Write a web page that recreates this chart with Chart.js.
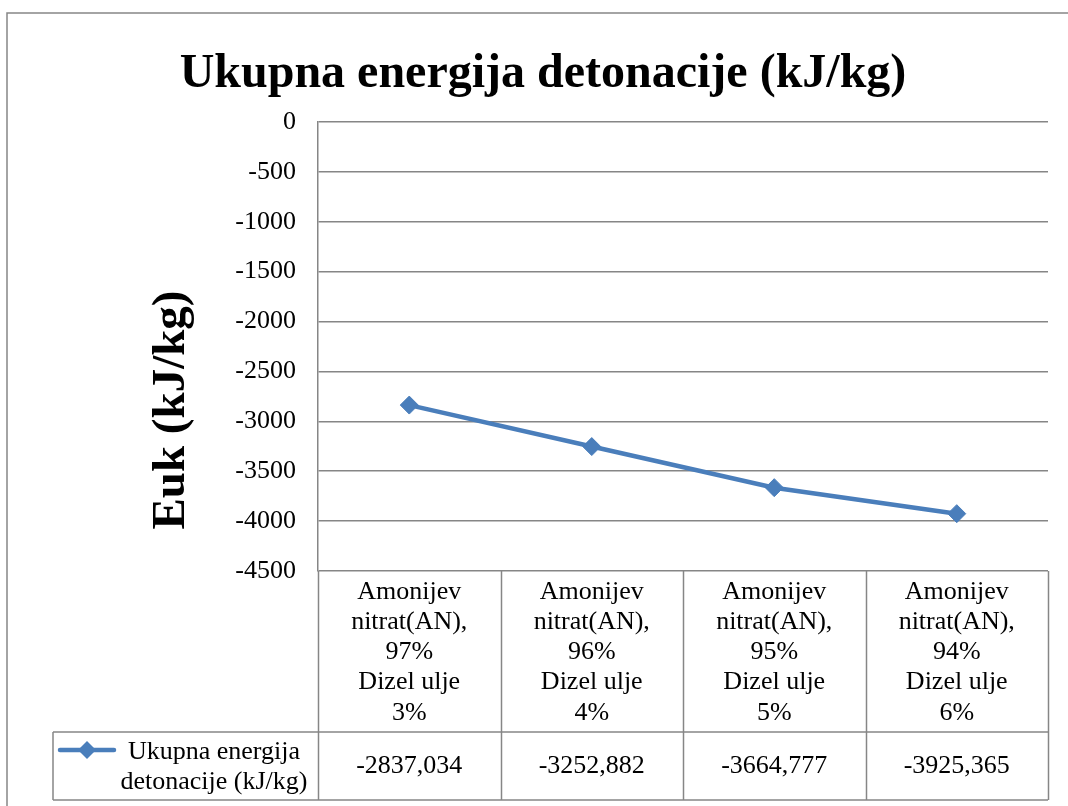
<!DOCTYPE html>
<html>
<head>
<meta charset="utf-8">
<script src="https://cdn.jsdelivr.net/npm/chart.js@4/dist/chart.umd.min.js"></script>
<style>
  html,body{margin:0;padding:0;background:#fff;}
  canvas{display:block;}
</style>
</head>
<body>
<canvas id="c" width="1068" height="806"></canvas>
<script>
const categories = [
  ['Amonijev','nitrat(AN),','97%','Dizel ulje','3%'],
  ['Amonijev','nitrat(AN),','96%','Dizel ulje','4%'],
  ['Amonijev','nitrat(AN),','95%','Dizel ulje','5%'],
  ['Amonijev','nitrat(AN),','94%','Dizel ulje','6%']
];
const values = [-2837.034, -3252.882, -3664.777, -3925.365];
const seriesName = ['Ukupna energija', 'detonacije (kJ/kg)'];
const titleText = 'Ukupna energija detonacije (kJ/kg)';
const yTitle = 'Euk (kJ/kg)';

const C = {
  line:'#4a7ebb', grid:'#868686', text:'#000',
  serif:"'Liberation Serif', 'Times New Roman', serif"
};
const fmt = v => v.toFixed(3).replace('.', ',');

const tablePlugin = {
  id:'tablePlugin',
  afterDraw(chart){
    const ctx = chart.ctx, a = chart.chartArea, x = chart.scales.x;
    const rowSplit = a.bottom + 161, bottom = x.bottom;
    const legendLeft = 53;
    ctx.save();
    // outer frame
    ctx.strokeStyle = C.grid; ctx.lineWidth = 1.5;
    ctx.strokeRect(7, 13, 1200, 1000);
    // title
    ctx.fillStyle = C.text;
    ctx.font = 'bold 48px ' + C.serif;
    ctx.textAlign = 'center'; ctx.textBaseline = 'alphabetic';
    ctx.fillText(titleText, 543, 87);
    // table grid
    const n = categories.length, w = a.width / n;
    ctx.beginPath();
    for (let i = 0; i <= n; i++) {
      const bx = Math.round(a.left + i * w) + 0.5;
      ctx.moveTo(bx, a.bottom); ctx.lineTo(bx, bottom);
    }
    ctx.moveTo(legendLeft, rowSplit); ctx.lineTo(a.right, rowSplit);
    ctx.moveTo(legendLeft, bottom); ctx.lineTo(a.right, bottom);
    ctx.moveTo(legendLeft, rowSplit); ctx.lineTo(legendLeft, bottom);
    ctx.stroke();
    // values row
    ctx.font = '26px ' + C.serif;
    ctx.textBaseline = 'middle';
    const midY = (rowSplit + bottom) / 2;
    values.forEach((v, i) => ctx.fillText(fmt(v), x.getPixelForValue(i), midY));
    // legend key
    ctx.strokeStyle = C.line; ctx.lineWidth = 4.5; ctx.lineCap = 'round';
    ctx.beginPath(); ctx.moveTo(60, rowSplit + 18); ctx.lineTo(114, rowSplit + 18); ctx.stroke();
    ctx.fillStyle = C.line;
    Chart.helpers.drawPoint(ctx, {pointStyle:'rectRot', radius:9, rotation:0, borderWidth:0}, 87, rowSplit + 18);
    ctx.fillStyle = C.text;
    ctx.fillText(seriesName[0], 214, rowSplit + 20);
    ctx.fillText(seriesName[1], 214, rowSplit + 50);
    // y-axis title
    ctx.save();
    ctx.translate(172, 410); ctx.rotate(-Math.PI / 2);
    ctx.font = 'bold 47px ' + C.serif;
    ctx.fillText(yTitle, 0, 0);
    ctx.restore();
    ctx.restore();
  }
};

new Chart(document.getElementById('c'), {
  type:'line',
  data:{
    labels:categories,
    datasets:[{
      label:seriesName.join(' '),
      data:values,
      borderColor:C.line, backgroundColor:C.line, borderWidth:4.5, tension:0,
      pointStyle:'rectRot', pointRadius:9, pointBackgroundColor:C.line, pointBorderColor:C.line, pointBorderWidth:1
    }]
  },
  options:{
    responsive:false, animation:false,
    layout:{padding:{left:7, right:20, top:122, bottom:6}},
    plugins:{legend:{display:false}, tooltip:{enabled:false}, title:{display:false}},
    scales:{
      x:{
        offset:true,
        grid:{display:false, drawTicks:false},
        border:{display:false},
        ticks:{color:C.text, font:{family:C.serif, size:26, lineHeight:1.16}, padding:6, autoSkip:false, maxRotation:0, minRotation:0},
        afterFit(s){ s.height = 229; }
      },
      y:{
        min:-4500, max:0,
        grid:{color:C.grid, lineWidth:1.5, drawTicks:false},
        border:{color:C.grid, width:1.5},
        ticks:{stepSize:500, color:C.text, font:{family:C.serif, size:26}, padding:22, callback:v => String(v)},
        afterFit(s){ s.width = 311; }
      }
    }
  },
  plugins:[tablePlugin]
});
</script>
</body>
</html>
